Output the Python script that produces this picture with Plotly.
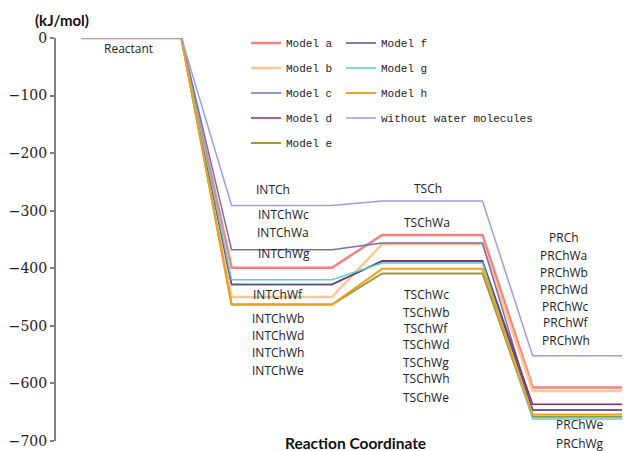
import plotly.graph_objects as go

# ---- data ----
stage_x = [0, 1, 1.5, 2.5, 3, 4, 4.5, 5.5]
series_names = ["Model a", "Model b", "Model c", "Model d", "Model e",
                "Model f", "Model g", "Model h", "without water molecules"]
# energies: Reactant, INT, TS, PR (kJ/mol)
model_a = [0, -399, -342, -607]
model_b = [0, -450, -358, -613]
model_c = [0, -368, -356, -646]
model_d = [0, -428, -387, -636]
model_e = [0, -463, -409, -658]
model_f = [0, -428, -388, -646]
model_g = [0, -420, -391, -662]
model_h = [0, -463, -401, -654]
no_water = [0, -291, -283, -552]

int_labels = ["INTCh", "INTChWc", "INTChWa", "INTChWg", "INTChWf",
              "INTChWb", "INTChWd", "INTChWh", "INTChWe"]
ts_labels = ["TSCh", "TSChWa", "TSChWc", "TSChWb", "TSChWf",
             "TSChWd", "TSChWg", "TSChWh", "TSChWe"]
pr_labels = ["PRCh", "PRChWa", "PRChWb", "PRChWd", "PRChWc",
             "PRChWf", "PRChWh", "PRChWe", "PRChWg"]

y_ticks = [0, -100, -200, -300, -400, -500, -600, -700]

# ---- styling ----
colors = ["#f88080", "#fcc890", "#7070b0", "#8b3060", "#9a9a3c",
          "#55508c", "#5ccfcc", "#f0a020", "#9c9ce6"]
widths = [2.5, 2.5, 1.5, 1.5, 2, 1.5, 1.5, 2, 1.5]
legend_ref = ["legend"] * 5 + ["legend2"] * 4

all_series = [model_a, model_b, model_c, model_d, model_e,
              model_f, model_g, model_h, no_water]

fig = go.Figure()
for name, vals, c, w, lg in zip(series_names, all_series, colors, widths, legend_ref):
    ys = [v for v in vals for _ in (0, 1)]
    fig.add_trace(go.Scatter(x=stage_x, y=ys, mode="lines", name=name,
                             line=dict(color=c, width=w), legend=lg,
                             legendgroup=name, hoverinfo="skip"))

# label positions (data coordinates, plus pixel shift)
lab_font = dict(family="Open Sans", size=12, color="#222222")
ann = []
ann.append(dict(x=0.47, y=-19, text="Reactant", yshift=0))
int_pos = [(1.91, -264, 0), (2.02, -306, 0), (2.01, -337, 0), (2.02, -375, 0), (1.96, -445, 0),
           (1.96, -488, 0), (1.96, -516, 0), (1.96, -547, 0), (1.96, -577, 0)]
ts_pos = [(3.46, -261, 0), (3.45, -320, 0), (3.44, -446, 0), (3.44, -476, 0), (3.44, -504, 0),
          (3.44, -533, 0), (3.44, -563, 0), (3.44, -592, 0), (3.44, -624, 0)]
pr_pos = [(4.81, -347, 0), (4.81, -377, 0), (4.81, -408, 0), (4.81, -436, 0), (4.83, -467, 0),
          (4.83, -495, 0), (4.83, -525, 0), (4.975, -672, 0), (4.975, -672, -19)]
for labs, pos in ((int_labels, int_pos), (ts_labels, ts_pos), (pr_labels, pr_pos)):
    for t, (x, y, s) in zip(labs, pos):
        ann.append(dict(x=x, y=y, text=t, yshift=s))
annotations = [dict(a, xref="x", yref="y", showarrow=False, font=lab_font,
                    xanchor="center", yanchor="middle") for a in ann]
annotations.append(dict(text="<b>Reaction Coordinate</b>", xref="paper", yref="paper",
                        x=0.5226, y=-0.006, showarrow=False, xanchor="center",
                        yanchor="middle", font=dict(family="Lato", size=15.5, color="#111111")))
annotations.append(dict(text="<b>(kJ/mol)</b>", xref="paper", yref="paper",
                        x=0.011, y=1.045, showarrow=False, xanchor="center",
                        yanchor="middle", font=dict(family="Lato", size=15, color="#111111")))

leg_font = dict(family="Liberation Mono", size=11, color="#222222")
# page body has an 8px margin, so the figure is 8px smaller and shifted
fig.update_layout(
    width=622, height=443,
    margin=dict(l=48, r=0, t=30, b=10),
    plot_bgcolor="white", paper_bgcolor="white",
    showlegend=True,
    xaxis=dict(range=[-0.25, 5.47], showgrid=False, zeroline=False, showline=False,
               showticklabels=False, ticks=""),
    yaxis=dict(range=[-700, 0], tickvals=y_ticks, showgrid=False, zeroline=False,
               showline=True, linecolor="#808080", linewidth=2, ticks="outside",
               tickcolor="#808080", ticklen=4, tickwidth=1.5,
               tickfont=dict(family="DejaVu Serif", size=14, color="#222222")),
    legend=dict(x=0.331, y=1.0236, xanchor="left", yanchor="top", font=leg_font,
                bgcolor="rgba(0,0,0,0)", traceorder="grouped", tracegroupgap=6),
    legend2=dict(x=0.4965, y=1.0236, xanchor="left", yanchor="top", font=leg_font,
                 bgcolor="rgba(0,0,0,0)", traceorder="grouped", tracegroupgap=6),
    annotations=annotations,
)
fig.write_html("out.html")
